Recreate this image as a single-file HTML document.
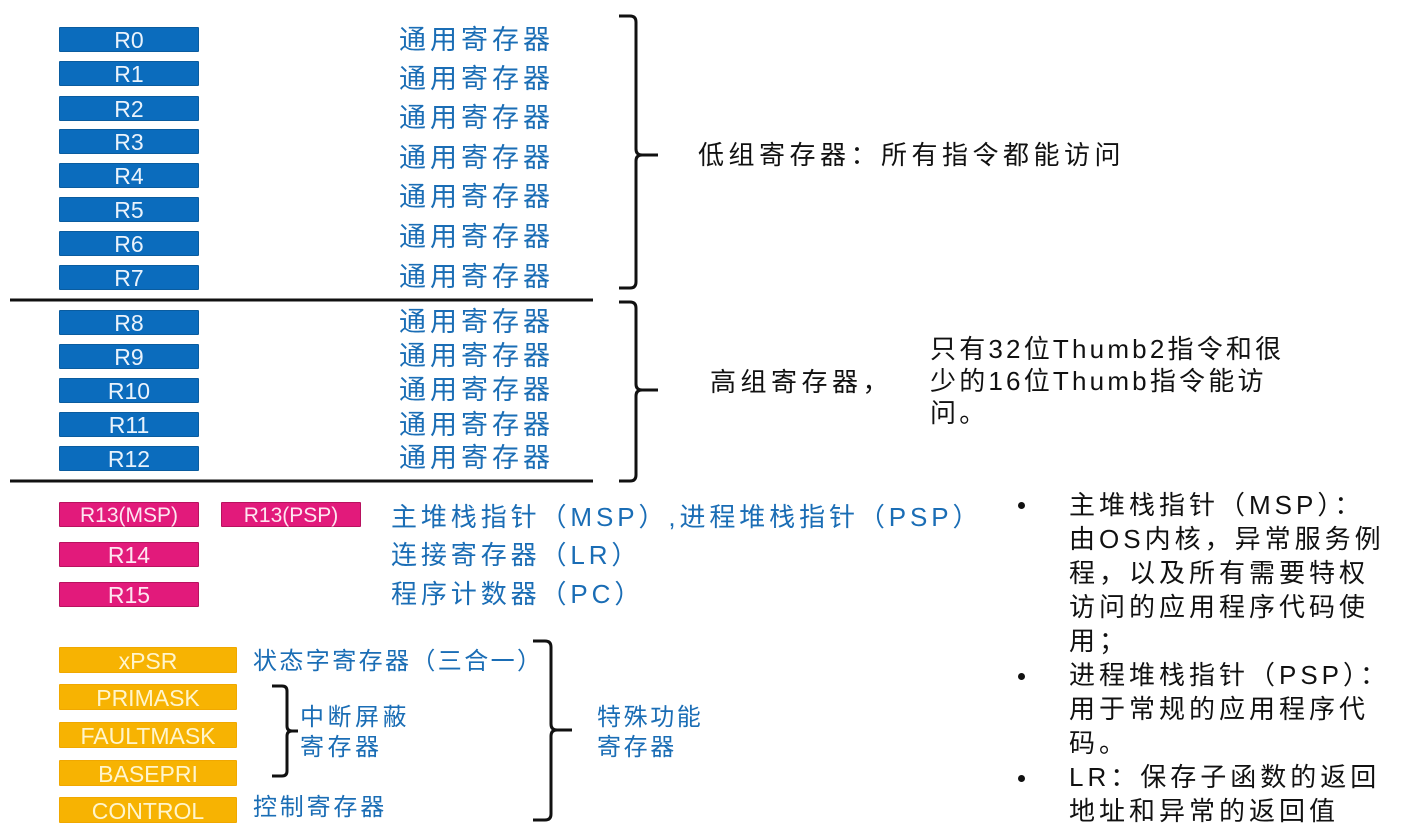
<!DOCTYPE html>
<html>
<head>
<meta charset="utf-8">
<style>
  html,body{margin:0;padding:0;background:#fff;}
  body{width:1416px;height:835px;position:relative;overflow:hidden;
       font-family:"Liberation Sans","Noto Sans CJK SC",sans-serif;}
  .b{position:absolute;left:59px;width:140px;height:25px;line-height:25px;text-align:center;
     font-size:23px;box-sizing:border-box;border-radius:1px;}
  .blue{background:#0b6cbd;color:#eaf3fc;border:1px solid #0a5c9f;}
  .mag{background:#e21a7b;color:#fde6f1;border:1px solid #b8125f;}
  .org{background:#f7b302;color:#fff5cc;border:1px solid #f0a800;width:178px;height:26px;line-height:26px;}
  .t{position:absolute;white-space:nowrap;}
  .gr{color:#1a6db5;font-size:27px;letter-spacing:4px;line-height:30px;left:399px;}
  .md{color:#1a6db5;font-size:26px;letter-spacing:3.9px;line-height:30px;left:391px;}
  .os{color:#1a6db5;font-size:24px;line-height:28px;}
  .bk{color:#111;font-size:26px;line-height:30px;letter-spacing:4.5px;}
  .bl{color:#111;font-size:26px;line-height:34px;letter-spacing:4px;left:1069px;}
  .dot{position:absolute;left:1018px;width:7px;height:7px;border-radius:50%;background:#111;}
</style>
</head>
<body>

<!-- Blue boxes low group -->
<div class="b blue" style="top:27px">R0</div>
<div class="b blue" style="top:61px">R1</div>
<div class="b blue" style="top:96px">R2</div>
<div class="b blue" style="top:129px">R3</div>
<div class="b blue" style="top:163px">R4</div>
<div class="b blue" style="top:197px">R5</div>
<div class="b blue" style="top:231px">R6</div>
<div class="b blue" style="top:265px">R7</div>

<!-- Blue boxes high group -->
<div class="b blue" style="top:310px">R8</div>
<div class="b blue" style="top:344px">R9</div>
<div class="b blue" style="top:378px">R10</div>
<div class="b blue" style="top:412px">R11</div>
<div class="b blue" style="top:446px">R12</div>

<!-- General register labels -->
<div class="t gr" style="top:25px">通用寄存器</div>
<div class="t gr" style="top:64px">通用寄存器</div>
<div class="t gr" style="top:103px">通用寄存器</div>
<div class="t gr" style="top:143px">通用寄存器</div>
<div class="t gr" style="top:182px">通用寄存器</div>
<div class="t gr" style="top:222px">通用寄存器</div>
<div class="t gr" style="top:262px">通用寄存器</div>

<div class="t gr" style="top:307px">通用寄存器</div>
<div class="t gr" style="top:341px">通用寄存器</div>
<div class="t gr" style="top:375px">通用寄存器</div>
<div class="t gr" style="top:410px">通用寄存器</div>
<div class="t gr" style="top:443px">通用寄存器</div>

<!-- Magenta -->
<div class="b mag" style="top:502px;font-size:21px;">R13(MSP)</div>
<div class="b mag" style="top:502px;left:221px;font-size:21px;">R13(PSP)</div>
<div class="b mag" style="top:542px">R14</div>
<div class="b mag" style="top:582px">R15</div>

<div class="t md" style="top:502px">主堆栈指针（MSP）,进程堆栈指针（PSP）</div>
<div class="t md" style="top:540px">连接寄存器（LR）</div>
<div class="t md" style="top:579px">程序计数器（PC）</div>

<!-- Orange -->
<div class="b org" style="top:647px">xPSR</div>
<div class="b org" style="top:684px">PRIMASK</div>
<div class="b org" style="top:722px">FAULTMASK</div>
<div class="b org" style="top:760px">BASEPRI</div>
<div class="b org" style="top:797px">CONTROL</div>

<div class="t os" style="left:253px;top:648px;letter-spacing:2.4px;">状态字寄存器（三合一）</div>
<div class="t os" style="left:300px;top:704px;letter-spacing:3.5px;">中断屏蔽</div>
<div class="t os" style="left:300px;top:734px;letter-spacing:3.5px;">寄存器</div>
<div class="t os" style="left:253px;top:794px;letter-spacing:2.8px;">控制寄存器</div>
<div class="t os" style="left:597px;top:704px;letter-spacing:2.6px;">特殊功能</div>
<div class="t os" style="left:597px;top:734px;letter-spacing:2.6px;">寄存器</div>

<!-- Right black text -->
<div class="t bk" style="left:698px;top:140px;">低组寄存器：所有指令都能访问</div>
<div class="t bk" style="left:710px;top:367px;">高组寄存器，</div>
<div class="t bk" style="left:930px;top:333px;letter-spacing:3.2px;line-height:32px;">只有32位Thumb2指令和很<br>少的16位Thumb指令能访<br>问。</div>

<!-- Bullets -->
<div class="dot" style="top:502px"></div>
<div class="dot" style="top:673px"></div>
<div class="dot" style="top:775px"></div>
<div class="t bl" style="top:488px;">主堆栈指针（MSP）：<br>由OS内核，异常服务例<br>程，以及所有需要特权<br>访问的应用程序代码使<br>用；<br>进程堆栈指针（PSP）：<br>用于常规的应用程序代<br>码。<br>LR：保存子函数的返回<br>地址和异常的返回值</div>

<!-- Lines and brackets -->
<svg width="1416" height="835" style="position:absolute;left:0;top:0;" xmlns="http://www.w3.org/2000/svg">
  <g fill="none" stroke="#111" stroke-width="3" stroke-linecap="butt">
    <line x1="10" y1="300" x2="593" y2="300"/>
    <line x1="10" y1="481" x2="593" y2="481"/>
    <!-- bracket 1 -->
    <path d="M619,16 L630,16 Q636,16 636,22 L636,149 Q636,155 642,155 L658,155 M642,155 Q636,155 636,161 L636,282 Q636,288 630,288 L619,288"/>
    <!-- bracket 2 -->
    <path d="M619,302 L630,302 Q636,302 636,308 L636,384 Q636,390 642,390 L658,390 M642,390 Q636,390 636,396 L636,475 Q636,481 630,481 L619,481"/>
    <!-- bracket 3 -->
    <path d="M533,641 L545,641 Q551,641 551,647 L551,724 Q551,730 557,730 L572,730 M557,730 Q551,730 551,736 L551,814 Q551,820 545,820 L533,820"/>
    <!-- small bracket -->
    <path d="M272,686 L282,686 Q287,686 287,691 L287,726 Q287,731 292,731 L298,731 M292,731 Q287,731 287,736 L287,771 Q287,776 282,776 L272,776"/>
  </g>
</svg>

</body>
</html>
